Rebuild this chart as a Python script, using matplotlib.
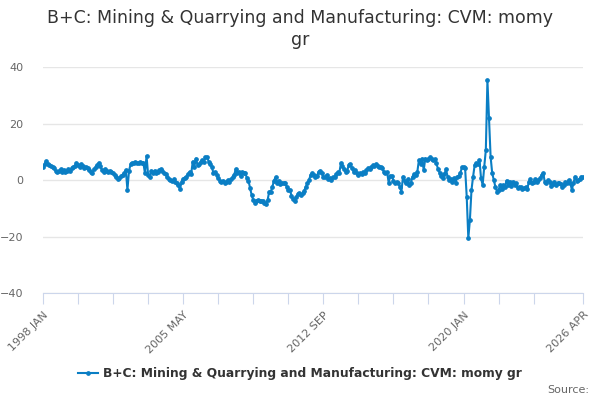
import numpy as np
import matplotlib
matplotlib.use("Agg")
from matplotlib import pyplot as plt
from matplotlib.lines import Line2D

# month-on-month-a-year-ago growth, monthly from 1998 JAN to 2026 APR
gr_1998_2002 = [4.7, 5.6, 6.7, 5.6, 5.2, 4.9, 4.5, 4.1, 3.3, 2.7, 3.3, 3.8,
                2.9, 3.5, 2.9, 3.3, 3.8, 3.3, 4.1, 4.7, 4.9, 5.9, 5.3, 4.7,
                5.6, 4.9, 4.1, 4.7, 4.2, 3.5, 2.9, 2.6, 3.8, 4.5, 5.3, 6.1,
                4.9, 3.5, 2.9, 3.8, 3.3, 2.9, 3.3, 2.9, 2.4, 1.8, 1.2, 0.2,
                0.6, 1.4, 1.8, 2.4, 3.5, -3.5, 3.3, 5.6, 6.1, 5.9, 6.4, 5.9, 6.1]
gr_2003_2007 = [6.2, 5.9, 6.1, 2.4, 8.5, 1.8, 0.9, 3.3, 2.4, 3.3, 2.6,
                2.9, 3.5, 3.8, 3.3, 2.6, 2.0, 1.2, 0.5, 0.0, -0.2, 0.2, -0.6,
                -0.9, -1.8, -3.3, -0.6, 0.5, 0.6, 1.2, 2.1, 2.9, 2.0, 6.5, 4.7,
                7.6, 5.3, 5.6, 6.5, 7.1, 6.5, 8.0, 8.2, 6.5, 5.6, 4.7, 2.4,
                2.9, 1.8, 0.6, -0.2, -0.6, -0.2, -1.2, -0.6, 0.0, -0.6, 0.2]
gr_2007_2012 = [0.9, 1.8, 3.8, 2.4, 2.9, 1.4, 2.9, 2.4, 2.6, 0.6, -0.2,
                -2.9, -5.3, -7.1, -8.0, -7.3, -7.1, -7.3, -7.6, -7.3, -8.2, -8.5, -7.1,
                -4.1, -4.1, -2.4, -0.2, 0.9, -0.9, -0.2, -1.4, -0.9, -1.2, -0.9, -2.4,
                -3.5, -3.5, -5.6, -6.8, -7.3, -6.1, -4.9, -4.7, -5.3, -4.7, -3.8, -2.4,
                -1.2, 0.0, 1.8, 2.4, 1.6, 1.2, 1.4, 2.9, 3.3, 2.4, 1.2, 0.9, 1.8, 0.2]
gr_2013_2017 = [0.6, 0.0, 0.9, 0.9, 2.1, 2.8, 2.4, 5.9, 4.9, 3.8, 2.9, 3.3,
                5.4, 5.6, 4.1, 2.9, 3.5, 2.4, 1.6, 2.4, 2.1, 2.9, 2.4, 3.5,
                4.1, 3.8, 4.7, 5.2, 4.9, 5.5, 4.9, 4.5, 4.7, 4.1, 2.9, 2.4,
                2.8, -0.9, 1.4, 1.4, -0.2, -1.2, -0.6, -0.9, -2.4, -4.1, 1.2, -0.2,
                -1.2, 0.2, -1.8, -0.9, 1.2, 2.1, 1.9, 2.9, 7.1, 5.6, 7.6, 3.5]
gr_2018_2022 = [7.6, 7.1, 7.6, 8.0, 7.3, 7.1, 7.3, 5.9, 3.8, 2.6, 1.4, 0.6,
                2.1, 3.8, 1.2, 0.0, 0.2, -0.6, 0.6, -0.9, 0.9, 1.4, 2.4, 4.5,
                4.5, 4.1, -5.9, -20.6, -14.1, -3.5, 1.2, 5.3, 5.9, 5.6, 7.1, 0.6,
                -1.8, 4.7, 10.6, 35.3, 21.8, 8.2, 2.4, 0.0, -2.4, -4.1, -3.5, -1.8,
                -3.3, -1.8, -2.4, -0.2, -1.8, -0.6, -2.1, -0.6, -1.8, -1.2, -2.9]
gr_2023_2026 = [-2.4, -2.6, -3.3, -2.9, -2.6, -3.3, -0.6, 0.2, -1.2, -0.6, 0.2,
                -0.6, 0.0, 0.6, 1.8, 2.4, -0.6, -1.2, 0.0, -0.6, -2.1, -1.4, -0.6,
                -1.8, -1.2, -0.9, -1.4, -2.4, -1.8, -0.6, -0.9, 0.0, -0.9, -3.5, -1.2,
                1.2, -0.2, 0.0, 0.2, 1.2, 0.9]

tick_labels = ["1998 JAN", "2005 MAY", "2012 SEP", "2020 JAN", "2026 APR"]
label_idx = [0, 88, 176, 264, 339]

values = (gr_1998_2002 + gr_2003_2007 + gr_2007_2012 +
          gr_2013_2017 + gr_2018_2022 + gr_2023_2026)
x = np.arange(len(values))

blue = '#0a7ec4'
axis_col = '#ccd6eb'

fig = plt.figure(figsize=(6, 4), dpi=100)
ax = fig.add_axes([43 / 600, 1 - 293 / 400, 540 / 600, 226 / 400])

ax.plot(x, values, color=blue, lw=1.5, marker='o', ms=2.4, zorder=3)

ax.set_xlim(0, len(values) - 1)
ax.set_ylim(-40, 40)
ax.set_yticks([-40, -20, 0, 20, 40])
ax.yaxis.grid(True, color='#e6e6e6', lw=1)
ax.set_axisbelow(True)
ax.tick_params(axis='y', length=0, labelsize=8, labelcolor='#666666', pad=14)

major = list(range(0, 309, 22)) + [339]
ax.set_xticks(major)
ax.set_xticklabels([tick_labels[label_idx.index(m)] if m in label_idx else ''
                    for m in major],
                   rotation=45, ha='right', rotation_mode='anchor')
ax.tick_params(axis='x', length=8, color=axis_col, labelsize=8,
               labelcolor='#666666', pad=4)

for s in ['top', 'right', 'left']:
    ax.spines[s].set_visible(False)
ax.spines['bottom'].set_color(axis_col)

fig.text(0.5, 0.978, "B+C: Mining & Quarrying and Manufacturing: CVM: momy\ngr",
         ha='center', va='top', fontsize=12.5, color='#333333', linespacing=1.3)

handle = Line2D([], [], color=blue, lw=1.5, marker='o', ms=2.4)
fig.legend([handle], ["B+C: Mining & Quarrying and Manufacturing: CVM: momy gr"],
           loc='center', bbox_to_anchor=(0.5, 0.065), frameon=False,
           prop={'weight': 'bold', 'size': 8.8}, handlelength=1.6,
           handletextpad=0.4, labelcolor='#333333')

fig.text(0.982, 0.025, "Source:", ha='right', va='center', fontsize=8,
         color='#666666')

fig.savefig('out.png', dpi=100)
